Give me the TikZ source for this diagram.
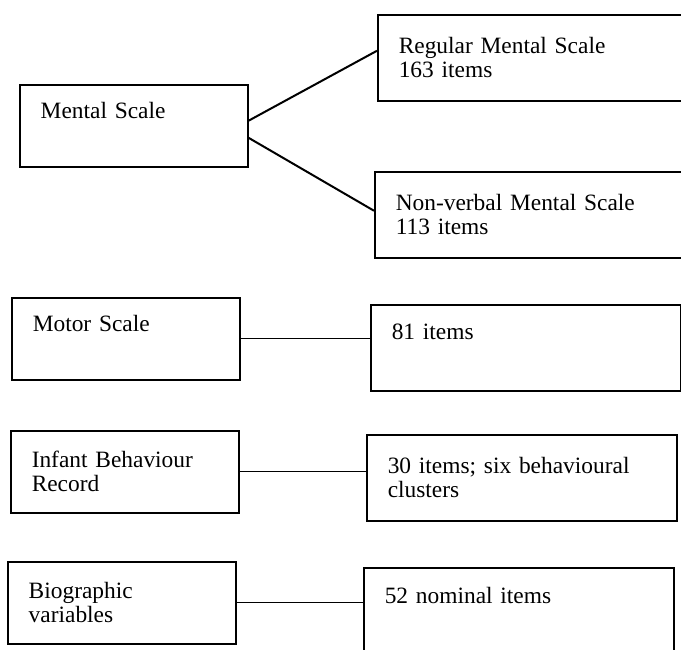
\documentclass[tikz,border=0pt]{standalone}
\usepackage{fontspec}
\setmainfont{Liberation Serif}
\usetikzlibrary{positioning}

\begin{document}
\begin{tikzpicture}[
  x=0.5pt, y=-0.5pt,
  box/.style={draw, anchor=north west, line width=0.75pt, align=left,
              inner xsep=10.5pt, font=\fontsize{11.7}{12}\selectfont},
  lbox/.style={box, text width=93pt, minimum height=41pt},
  rbox/.style={box, text width=134pt, minimum height=43pt},
  link/.style={line width=0.6pt}
]
\useasboundingbox (0,0) rectangle (681,649);

% left column
\node[lbox] (mental) at (19,84)  {Mental Scale\\\strut};
\node[lbox] (motor)  at (11,297) {Motor Scale\\\strut};
\node[lbox] (ibr)    at (10,430) {Infant Behaviour\\Record};
\node[lbox] (bio)    at (7,561)  {Biographic\\variables};

% right column (top two run past the page edge)
\node[rbox, text width=200pt] (regular) at (377,14)  {Regular Mental Scale\\163 items};
\node[rbox, text width=200pt] (nonverb) at (374,171) {Non-verbal Mental Scale\\113 items};
\node[rbox] (items81) at (370,304) {81 items\\\strut};
\node[rbox] (items30) at (366,434) {30 items; six behavioural\\clusters};
\node[rbox] (items52) at (363,567) {52 nominal items\\\strut};

\draw[line width=1pt] ([yshift=2.5pt]mental.east) -- ([yshift=3.5pt]regular.west);
\draw[line width=1pt] ([yshift=-6pt]mental.east) -- ([yshift=2pt]nonverb.west);
\draw[link] (motor.east) -- (motor.east -| items81.west);
\draw[link] (ibr.east) -- (ibr.east -| items30.west);
\draw[link] (bio.east) -- (bio.east -| items52.west);
\end{tikzpicture}
\end{document}
